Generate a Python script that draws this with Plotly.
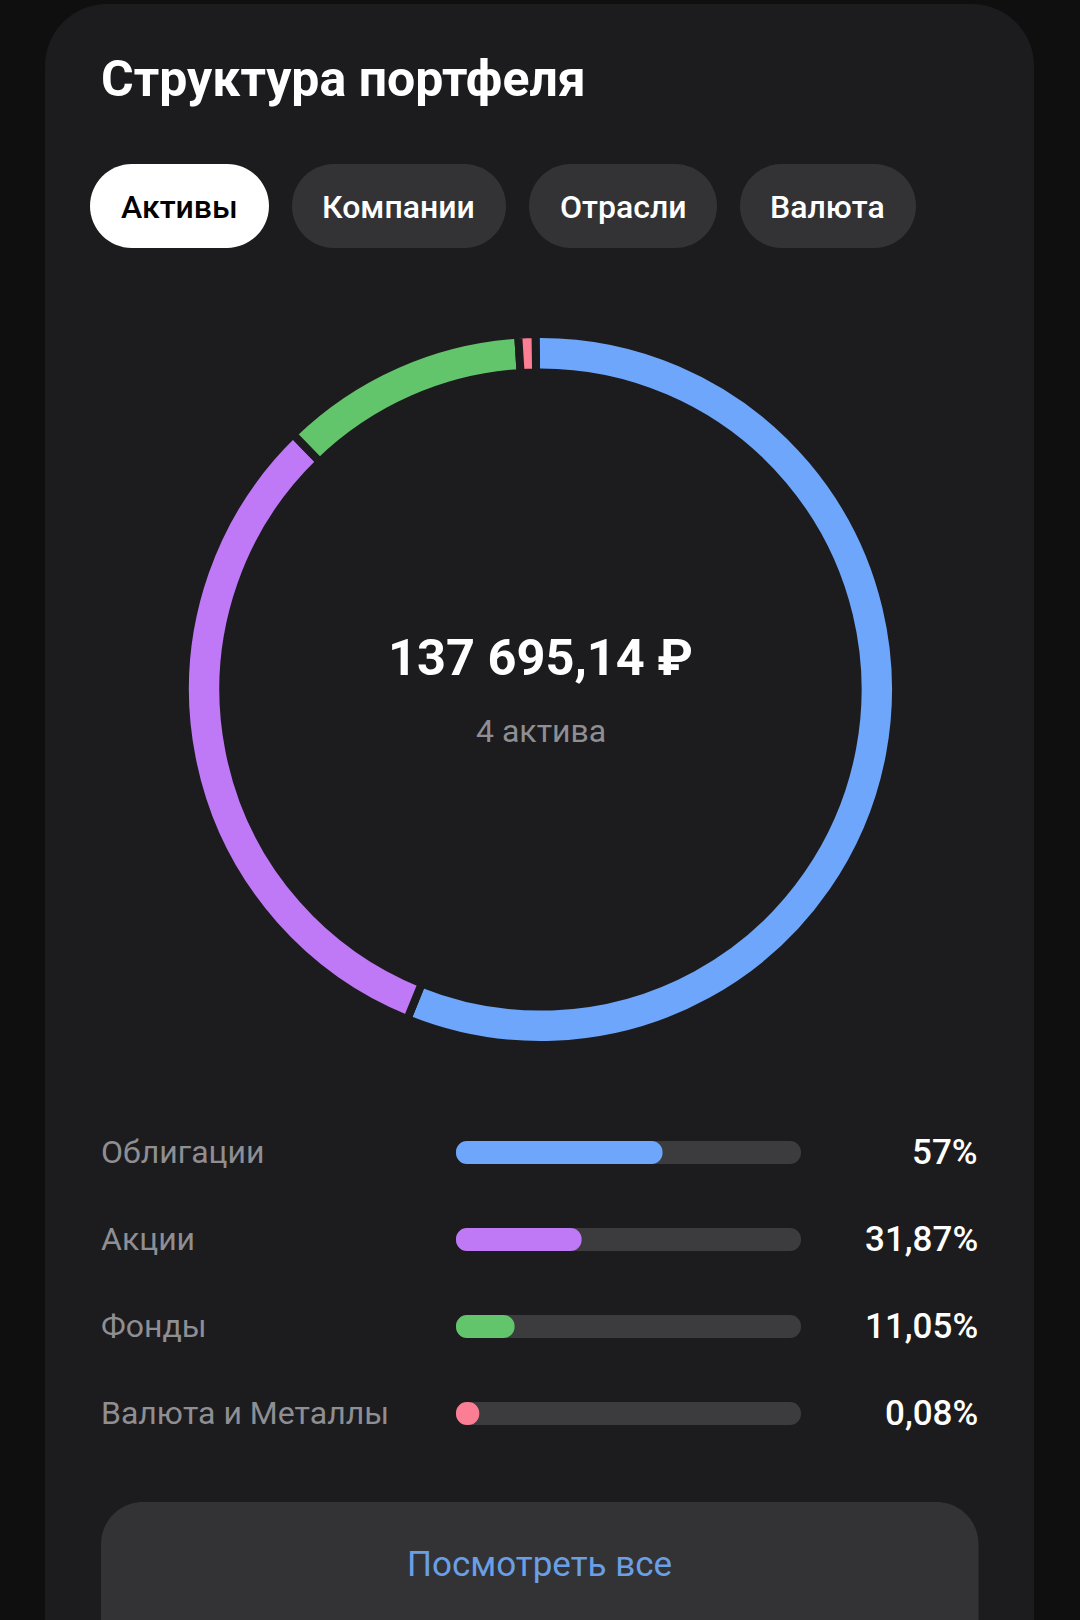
import plotly.graph_objects as go

W = 1080
H = 1620

title = "Структура портфеля"
tabs = ["Активы", "Компании", "Отрасли", "Валюта"]
total_label = "137 695,14 ₽"
count_label = "4 актива"
button_label = "Посмотреть все"

categories = ["Облигации", "Акции", "Фонды", "Валюта и Металлы"]
percents = [57, 31.87, 11.05, 0.08]
percent_labels = ["57%", "31,87%", "11,05%", "0,08%"]
# arc sizes as drawn on the ring (degrees, the smallest one has a minimum size)
arc_degrees = [202.8, 113.9, 40.5, 2.8]
colors = ["#6ea6fb", "#bf78f6", "#62c46b", "#fb7e95"]

OUTER_BG = "#0f0f10"
CARD_BG = "#1c1c1e"
PILL_BG = "#333335"
TRACK_BG = "#3c3c3e"
GREY = "#8e8e93"
FONT = "Roboto"

# bars have round ends that stick out past 0 and 100
CAP = 3.57


def px(x):
    return x / W


def py(y):
    return 1 - y / H


def rounded(x0, y0, x1, y1, r):
    k = r * 0.448
    xa, xb, ya, yb = px(x0), px(x1), py(y0), py(y1)
    rx, ry, kx, ky = r / W, r / H, k / W, k / H
    return (
        f"M{xa + rx},{ya} L{xb - rx},{ya} "
        f"C{xb - kx},{ya} {xb},{ya - ky} {xb},{ya - ry} "
        f"L{xb},{yb + ry} C{xb},{yb + ky} {xb - kx},{yb} {xb - rx},{yb} "
        f"L{xa + rx},{yb} C{xa + kx},{yb} {xa},{yb + ky} {xa},{yb + ry} "
        f"L{xa},{ya - ry} C{xa},{ya - ky} {xa + kx},{ya} {xa + rx},{ya} Z"
    )


def box(x0, y0, x1, y1, r, color):
    return dict(type="path", path=rounded(x0, y0, x1, y1, r), xref="paper", yref="paper",
                fillcolor=color, line_width=0, layer="below")


def label(x, y, text, size, color, anchor="center", weight=400):
    return dict(x=px(x), y=py(y), xref="paper", yref="paper", text=text, showarrow=False,
                xanchor=anchor, yanchor="middle",
                font=dict(family=FONT, size=size, color=color, weight=weight))


fig = go.Figure()

# ring, the bg coloured outline makes the gaps so radius is a bit bigger than what you see
cx, cy, ring_r = 540.5, 689.5, 355.5
fig.add_trace(go.Pie(
    labels=categories,
    values=arc_degrees,
    hole=0.892,
    sort=False,
    direction="clockwise",
    rotation=-0.8,
    textinfo="none",
    marker=dict(colors=colors, line=dict(color=CARD_BG, width=8)),
    domain=dict(x=[px(cx - ring_r), px(cx + ring_r)], y=[py(cy + ring_r), py(cy - ring_r)]),
    showlegend=False,
))

fig.add_trace(go.Bar(
    y=categories,
    x=[100 + 2 * CAP] * len(categories),
    base=-CAP,
    orientation="h",
    marker=dict(color=TRACK_BG, cornerradius=11, line_width=0),
    showlegend=False,
))
fig.add_trace(go.Bar(
    y=categories,
    x=[p + 2 * CAP for p in percents],
    base=-CAP,
    orientation="h",
    marker=dict(color=colors, cornerradius=11, line_width=0),
    showlegend=False,
))

shapes = [box(45, 4, 1034, 1700, 62, CARD_BG)]
tab_edges = [(90, 269), (292, 506), (529, 717), (740, 916)]
annotations = [label(99, 79, title, 50, "#ffffff", "left", 700)]
for i, (tab, (x0, x1)) in enumerate(zip(tabs, tab_edges)):
    shapes.append(box(x0, 164, x1, 248, 42, "#ffffff" if i == 0 else PILL_BG))
    annotations.append(label((x0 + x1) / 2 - 0.5, 207, tab, 32, "#000000" if i == 0 else "#ffffff", weight=500))

shapes.append(box(101, 1502, 978.5, 1700, 42, PILL_BG))
annotations.append(label(539.5, 1564, button_label, 35, "#6a9fe6"))
annotations.append(label(540.5, 658, total_label, 50.5, "#ffffff", weight=700))
annotations.append(label(540.5, 731, count_label, 32, GREY))

for name, text, row_y in zip(categories, percent_labels, [1152.5, 1239.5, 1326.5, 1413.5]):
    annotations.append(label(99, row_y - 0.5, name, 32, GREY, "left"))
    annotations.append(label(979.5, row_y, text, 35, "#ffffff", "right", 500))

fig.update_layout(
    width=W,
    height=H,
    margin=dict(l=0, r=0, t=0, b=0),
    paper_bgcolor=OUTER_BG,
    plot_bgcolor="rgba(0,0,0,0)",
    barmode="overlay",
    bargap=0.736,
    shapes=shapes,
    annotations=annotations,
    xaxis=dict(domain=[px(456), px(801)], range=[-CAP, 100 + CAP], visible=False, fixedrange=True),
    yaxis=dict(domain=[py(1457), py(1109)], autorange="reversed", visible=False, fixedrange=True),
    font=dict(family=FONT),
)

fig.write_html("out.html", config=dict(displayModeBar=False),
               post_script="document.body.style.margin='0';")
